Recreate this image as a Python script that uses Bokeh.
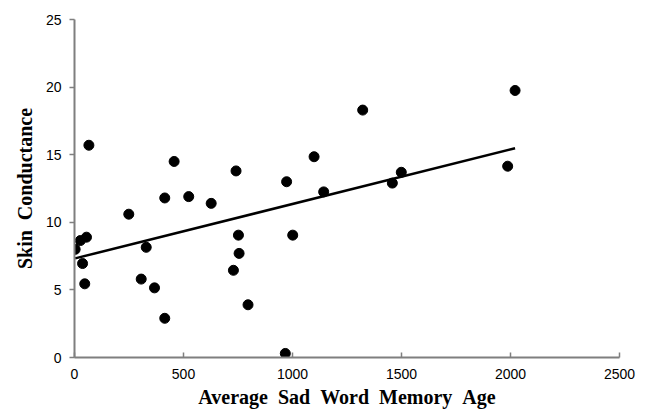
import numpy as np
from bokeh.plotting import figure
from bokeh.models import Range1d, FixedTicker
from bokeh.embed import file_html
from bokeh.resources import INLINE

# Data
memory_age = [3, 27, 55, 37, 47, 66, 249, 306, 329, 367, 414, 414, 457, 524, 627,
              741, 729, 752, 755, 796, 967, 1001, 973, 1099, 1143, 1322, 1458, 1499,
              1987, 2021]
skin_conductance = [8.0, 8.65, 8.9, 6.95, 5.45, 15.7, 10.6, 5.8, 8.15, 5.15, 2.9, 11.8,
                    14.5, 11.9, 11.4, 13.8, 6.45, 9.05, 7.7, 3.9, 0.3, 9.05, 13.0, 14.85,
                    12.25, 18.3, 12.9, 13.7, 14.15, 19.75]
x_ticks = [0, 500, 1000, 1500, 2000, 2500]
y_ticks = [0, 5, 10, 15, 20, 25]

# Regression line fitted to the data
slope, intercept = np.polyfit(memory_age, skin_conductance, 1)
fit_x = [min(memory_age), max(memory_age)]
fit_y = [intercept + slope * v for v in fit_x]

p = figure(width=638, height=413, output_backend="svg", toolbar_location=None,
           x_range=Range1d(0, 2500), y_range=Range1d(0, 25),
           min_border_left=74, min_border_right=19, min_border_top=19, min_border_bottom=56)
p.outline_line_color = None
p.xgrid.grid_line_color = None
p.ygrid.grid_line_color = None
p.background_fill_color = "white"
p.border_fill_color = "white"

p.line(fit_x, fit_y, line_color="black", line_width=2.5)
p.scatter(memory_age, skin_conductance, size=10, fill_color="black", line_color="black")

axis_grey = "#7f7f7f"
for ax in (p.xaxis[0], p.yaxis[0]):
    ax.axis_line_color = axis_grey
    ax.axis_line_width = 2
    ax.major_tick_line_color = axis_grey
    ax.major_tick_line_width = 1.5
    ax.minor_tick_line_color = None
    ax.major_label_text_font = "Liberation Sans"
    ax.major_label_text_font_size = "14px"
    ax.major_label_text_color = "black"
    ax.axis_label_text_font = "Liberation Serif"
    ax.axis_label_text_font_style = "bold"
    ax.axis_label_text_font_size = "20px"
    ax.axis_label_text_color = "black"

sp = "\u00a0\u00a0"
p.xaxis[0].ticker = FixedTicker(ticks=x_ticks)
p.yaxis[0].ticker = FixedTicker(ticks=y_ticks)
p.xaxis[0].major_tick_in = 5
p.xaxis[0].major_tick_out = 0
p.yaxis[0].major_tick_in = 0
p.yaxis[0].major_tick_out = 5
p.xaxis[0].major_label_standoff = 11
p.yaxis[0].major_label_standoff = 8
p.xaxis[0].axis_label = sp.join(["Average", "Sad", "Word", "Memory", "Age"])
p.yaxis[0].axis_label = sp.join(["Skin", "Conductance"])
p.xaxis[0].axis_label_standoff = 4
p.yaxis[0].axis_label_standoff = 7

open("out.html", "w").write(file_html(p, INLINE))
